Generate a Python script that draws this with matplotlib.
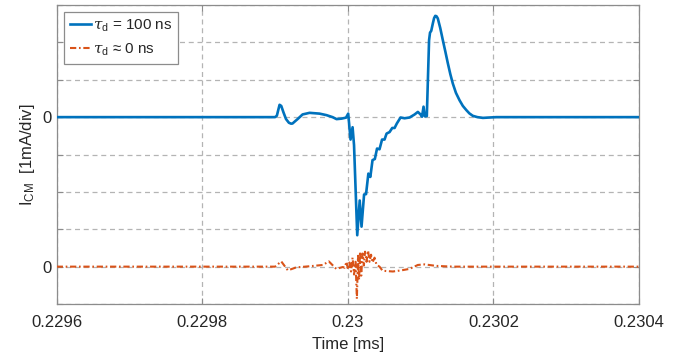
import matplotlib
matplotlib.use("Agg")
import matplotlib.pyplot as plt
import numpy as np

plt.rcParams['font.family'] = ['Liberation Sans', 'DejaVu Sans']
plt.rcParams['mathtext.fontset'] = 'custom'
plt.rcParams['mathtext.rm'] = 'Liberation Sans'
plt.rcParams['mathtext.it'] = 'DejaVu Serif:italic'

# time offsets in ns relative to 0.23 ms
blue_t_ns = [-400, -100.0, -97.5, -95.5, -93.8, -91.5, -88.5, -85.0, -81.0, -78.0, -76.0, -72.5,
             -69.1, -62.2, -52.6, -38.9, -29.3, -21.0,
             -15.5, -8.7, -2.5, 0.5, 3.7, 6.5, 8.5, 12.9, 16.3, 18.8, 22.3, 25.0, 28.2, 30.9,
             33.9, 37.1, 40.1, 43.5, 47.0, 50.4, 53.2, 57.3, 61.0, 64.2, 67.3, 72.4, 77.9,
             84.8, 91.6, 96.2, 99.9, 101.9, 104.0, 105.8, 108.5, 111.6, 112.9, 114.6, 116.8,
             118.5, 120.1, 121.8, 123.6, 127.0, 130.5, 134.0, 137.4, 140.8, 144.2, 148.5, 153.5,
             158.0, 162.7, 167.0, 171.7, 178.0, 185.5, 203.9, 400]
blue_i_mA = [0, 0, 0.04, 0.20, 0.33, 0.30, 0.13, -0.05, -0.15, -0.175, -0.17, -0.11,
             -0.053, 0.072, 0.115, 0.094, 0.053, 0.0,
             -0.053, -0.040, -0.013, 0.094, -0.60, -0.27, -0.75, -3.16, -2.23, -2.93, -2.07, -2.06,
             -1.51, -1.60, -1.15, -1.12, -0.84, -0.86, -0.60, -0.60, -0.44, -0.40, -0.29, -0.29,
             -0.17, -0.01, -0.03, -0.01, 0.07, 0.14, 0.07, 0.01, 0.28, 0.02, 0.03, 2.06, 2.26,
             2.31, 2.51, 2.65, 2.71, 2.70, 2.64, 2.38, 2.06, 1.75, 1.44, 1.15, 0.90, 0.65, 0.45,
             0.30, 0.19, 0.10, 0.035, 0.0, -0.02, 0.0, 0.0]

orange_t_ns = [-400, -100.0, -91.5, -82.4, -70.9, -52.6, -34.3, -26.1, -15.9, -6.9, -4.5, -1.8,
               0.3, 2.3, 4.4, 6.5, 8.5, 10.6, 12.4, 14.0, 15.4, 16.8, 18.4, 20.2, 22.0, 23.6,
               25.7, 27.8, 29.8, 31.9, 33.9, 36.7, 39.4, 43.5, 47.7, 54.5, 61.8, 73.4, 84.8,
               96.2, 105.4, 121.4, 144.2, 400]
orange_i_mA = [0, 0, 0.14, -0.10, -0.02, 0.01, 0.045, 0.14, -0.06, -0.01, -0.03, 0.13, -0.08,
               0.11, -0.13, 0.24, -0.21, 0.13, -0.86, 0.29, -0.35, 0.40, -0.24, 0.35, 0.03, 0.40,
               0.13, 0.43, 0.13, 0.32, 0.11, 0.24, 0.05, 0.0, -0.11, -0.12, -0.13, -0.10, -0.06,
               0.045, 0.06, 0.02, 0.0, 0.0]

t0_ms = 0.23
blue_offset_div = 4
xticks = [0.2296, 0.2298, 0.2300, 0.2302, 0.2304]
xticklabels = ['0.2296', '0.2298', '0.23', '0.2302', '0.2304']
labels = [r'$\tau_{\rm d}$ = 100 ns', r'$\tau_{\rm d}$ ≈ 0 ns']

blue_c = '#0072BD'
orange_c = '#D95319'
txt_c = '#262626'
ax_c = '#8c8c8c'

fig = plt.figure(figsize=(6.95, 3.58), dpi=100)
ax = fig.add_axes([0.0816, 0.1508, 0.8378, 0.8352])

tb = t0_ms + np.array(blue_t_ns) * 1e-6
to = t0_ms + np.array(orange_t_ns) * 1e-6
ax.plot(tb, np.array(blue_i_mA) + blue_offset_div, color=blue_c, lw=1.9, label=labels[0], zorder=3)
ax.plot(to, np.array(orange_i_mA), color=orange_c, lw=1.5, ls=(0, (3, 1.3, 0.8, 1.3)),
        label=labels[1], zorder=3)

ax.set_xlim(0.2296, 0.2304)
ax.set_ylim(-1, 7)
ax.set_xticks(xticks)
ax.set_xticklabels(xticklabels)
yt = list(range(-1, 8))
ax.set_yticks(yt)
ax.set_yticklabels(['0' if v in (0, blue_offset_div) else '' for v in yt])

ax.grid(True, ls=(0, (4, 3)), color='#b4b4b4', lw=0.9)
for s in ax.spines.values():
    s.set_color(ax_c)
    s.set_linewidth(0.9)
ax.tick_params(direction='in', length=4, width=0.8, color=ax_c, labelcolor=txt_c,
               labelsize=12, top=True, right=True)
ax.tick_params(axis='x', pad=8)

ax.set_xlabel('Time [ms]', fontsize=12, color=txt_c, labelpad=5)
ax.set_ylabel(r'I$_{\rm CM}$  [1mA/div]', fontsize=12, color=txt_c, labelpad=4)

leg = ax.legend(loc='upper left', bbox_to_anchor=(0.012, 0.978), fontsize=11,
                handlelength=1.4, handletextpad=0.1, borderpad=0.4, labelspacing=0.5,
                fancybox=False, framealpha=1, edgecolor=ax_c, borderaxespad=0)
leg.get_frame().set_linewidth(0.9)
for t in leg.get_texts():
    t.set_color(txt_c)

fig.savefig('out.png', dpi=100)
